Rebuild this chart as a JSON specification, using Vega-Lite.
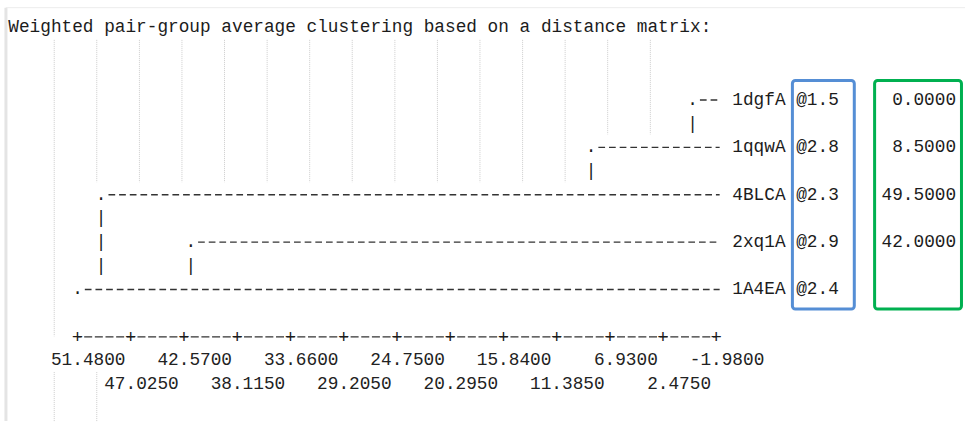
{
  "$schema": "https://vega.github.io/schema/vega-lite/v6.json",
  "width": 966,
  "height": 423,
  "padding": 0,
  "autosize": {"type": "fit", "contains": "padding"},
  "background": "#ffffff",
  "config": {
    "view": {"stroke": null},
    "mark": {"color": "#1c1c1c"},
    "text": {"font": "Liberation Mono", "fontSize": 17.76, "baseline": "middle", "color": "#1c1c1c"},
    "locale": {"number": {"decimal": ".", "thousands": ",", "grouping": [3], "currency": ["$", ""], "minus": "-"}}
  },
  "datasets": {
    "leaves": [
      {"leaf": "1dgfA", "stat": "@1.5", "join": 0.0, "value": 0.0, "line": 3},
      {"leaf": "1qqwA", "stat": "@2.8", "join": 8.5, "value": 8.5, "line": 5},
      {"leaf": "4BLCA", "stat": "@2.3", "join": 49.5, "value": 49.5, "line": 7},
      {"leaf": "2xq1A", "stat": "@2.9", "join": 42.0, "value": 42.0, "line": 9},
      {"leaf": "1A4EA", "stat": "@2.4", "join": 51.48, "value": null, "line": 11}
    ],
    "links": [
      {"join": 0.0, "line": 4},
      {"join": 8.5, "line": 6},
      {"join": 49.5, "line": 8},
      {"join": 49.5, "line": 9},
      {"join": 49.5, "line": 10},
      {"join": 42.0, "line": 10}
    ],
    "ticks": [
      {"v": 51.48, "tier": 0}, {"v": 47.025, "tier": 1}, {"v": 42.57, "tier": 0},
      {"v": 38.115, "tier": 1}, {"v": 33.66, "tier": 0}, {"v": 29.205, "tier": 1},
      {"v": 24.75, "tier": 0}, {"v": 20.295, "tier": 1}, {"v": 15.84, "tier": 0},
      {"v": 11.385, "tier": 1}, {"v": 6.93, "tier": 0}, {"v": 2.475, "tier": 1},
      {"v": -1.98, "tier": 0}
    ],
    "guides": [
      {"d": 53.43, "top": 0.46, "bottom": 12.98},
      {"d": 53.43, "top": 14.49, "bottom": 16.56},
      {"d": 49.87, "top": 0.46, "bottom": 6.47},
      {"d": 49.87, "top": 14.49, "bottom": 16.56},
      {"d": 46.30, "top": 0.46, "bottom": 6.47},
      {"d": 42.74, "top": 0.46, "bottom": 6.47},
      {"d": 39.18, "top": 0.46, "bottom": 6.47},
      {"d": 35.61, "top": 0.46, "bottom": 6.47},
      {"d": 32.05, "top": 0.46, "bottom": 6.47},
      {"d": 28.49, "top": 0.46, "bottom": 6.47},
      {"d": 24.92, "top": 0.46, "bottom": 6.47},
      {"d": 21.36, "top": 0.46, "bottom": 6.47},
      {"d": 17.80, "top": 0.46, "bottom": 6.47},
      {"d": 14.23, "top": 0.46, "bottom": 6.47},
      {"d": 10.67, "top": 0.46, "bottom": 6.47},
      {"d": 7.11, "top": 0.46, "bottom": 4.45},
      {"d": 3.54, "top": 0.46, "bottom": 4.45}
    ]
  },
  "layer": [
    {
      "data": {"name": "guides"},
      "mark": {"type": "rule", "color": "#cccccc", "strokeWidth": 1, "strokeDash": [1, 1]},
      "encoding": {
        "x": {"field": "d", "type": "quantitative", "axis": null, "scale": {"domain": [-22.795, 57.968], "reverse": true, "nice": false, "zero": false}},
        "y": {"field": "top", "type": "quantitative", "axis": null, "scale": {"domain": [-1.224, 16.556], "reverse": true, "nice": false, "zero": false}},
        "y2": {"field": "bottom"}
      }
    },
    {
      "data": {"values": [{}]},
      "mark": {"type": "rule", "color": "#e4e4e4", "strokeWidth": 3},
      "encoding": {
        "x": {"datum": 57.47, "type": "quantitative"},
        "y": {"datum": -0.9, "type": "quantitative"},
        "y2": {"datum": 16.556}
      }
    },
    {
      "data": {"values": [{}]},
      "mark": {"type": "rule", "color": "#ececec", "strokeWidth": 1},
      "encoding": {
        "x": {"datum": 57.47, "type": "quantitative"},
        "x2": {"datum": -22.795},
        "y": {"datum": -0.9, "type": "quantitative"}
      }
    },
    {
      "data": {"values": [{}]},
      "mark": {"type": "rect", "fillOpacity": 0, "stroke": "#558ED5", "strokeWidth": 3, "cornerRadius": 3},
      "encoding": {
        "x": {"datum": -8.35, "type": "quantitative"},
        "x2": {"datum": -13.53},
        "y": {"datum": 2.172, "type": "quantitative"},
        "y2": {"datum": 11.827}
      }
    },
    {
      "data": {"values": [{}]},
      "mark": {"type": "rect", "fillOpacity": 0, "stroke": "#00B050", "strokeWidth": 3, "cornerRadius": 3},
      "encoding": {
        "x": {"datum": -15.23, "type": "quantitative"},
        "x2": {"datum": -22.5},
        "y": {"datum": 2.172, "type": "quantitative"},
        "y2": {"datum": 11.827}
      }
    },
    {
      "data": {"name": "leaves"},
      "mark": {"type": "rule", "color": "#333333", "strokeWidth": 1.4, "strokeDash": [6.7, 3.957], "xOffset": 7.3, "x2Offset": 3.35},
      "encoding": {
        "x": {"field": "join", "type": "quantitative"},
        "x2": {"datum": -1.98},
        "y": {"field": "line", "type": "quantitative"}
      }
    },
    {
      "data": {"name": "leaves"},
      "mark": {"type": "text", "text": ".", "align": "center", "color": "#1c1c1c"},
      "encoding": {
        "x": {"field": "join", "type": "quantitative"},
        "y": {"field": "line", "type": "quantitative"}
      }
    },
    {
      "data": {"name": "links"},
      "mark": {"type": "text", "text": "|", "align": "center", "color": "#1c1c1c"},
      "encoding": {
        "x": {"field": "join", "type": "quantitative"},
        "y": {"field": "line", "type": "quantitative"}
      }
    },
    {
      "data": {"name": "leaves"},
      "mark": {"type": "text", "align": "left", "dx": 16, "color": "#1c1c1c"},
      "encoding": {
        "x": {"datum": -1.98, "type": "quantitative"},
        "y": {"field": "line", "type": "quantitative"},
        "text": {"field": "leaf"}
      }
    },
    {
      "data": {"name": "leaves"},
      "mark": {"type": "text", "align": "left", "dx": 79.9, "color": "#1c1c1c"},
      "encoding": {
        "x": {"datum": -1.98, "type": "quantitative"},
        "y": {"field": "line", "type": "quantitative"},
        "text": {"field": "stat"}
      }
    },
    {
      "data": {"name": "leaves"},
      "transform": [{"filter": "isValid(datum.value)"}],
      "mark": {"type": "text", "align": "right", "dx": 239.8, "color": "#1c1c1c"},
      "encoding": {
        "x": {"datum": -1.98, "type": "quantitative"},
        "y": {"field": "line", "type": "quantitative"},
        "text": {"field": "value", "type": "quantitative", "format": ".4f"}
      }
    },
    {
      "data": {"values": [{}]},
      "mark": {"type": "text", "align": "left", "dy": -1.5, "color": "#1c1c1c", "text": "Weighted pair-group average clustering based on a distance matrix:"},
      "encoding": {
        "x": {"datum": 57.274, "type": "quantitative"},
        "y": {"datum": 0, "type": "quantitative"}
      }
    },
    {
      "data": {"values": [{}]},
      "mark": {"type": "rule", "color": "#333333", "strokeWidth": 1.3, "strokeDash": [8, 2.657], "strokeDashOffset": 4},
      "encoding": {
        "x": {"datum": 51.48, "type": "quantitative"},
        "x2": {"datum": -1.98},
        "y": {"datum": 13, "type": "quantitative"}
      }
    },
    {
      "data": {"name": "ticks"},
      "mark": {"type": "text", "text": "+", "align": "center", "color": "#1c1c1c", "fontSize": 19},
      "encoding": {
        "x": {"field": "v", "type": "quantitative"},
        "y": {"datum": 13, "type": "quantitative"}
      }
    },
    {
      "data": {"name": "ticks"},
      "transform": [{"filter": "datum.tier == 0"}],
      "mark": {"type": "text", "align": "right", "dx": 48, "color": "#222222"},
      "encoding": {
        "x": {"field": "v", "type": "quantitative"},
        "y": {"datum": 14, "type": "quantitative"},
        "text": {"field": "v", "type": "quantitative", "format": ".4f"}
      }
    },
    {
      "data": {"name": "ticks"},
      "transform": [{"filter": "datum.tier == 1"}],
      "mark": {"type": "text", "align": "right", "dx": 48, "color": "#222222"},
      "encoding": {
        "x": {"field": "v", "type": "quantitative"},
        "y": {"datum": 15, "type": "quantitative"},
        "text": {"field": "v", "type": "quantitative", "format": ".4f"}
      }
    }
  ]
}
